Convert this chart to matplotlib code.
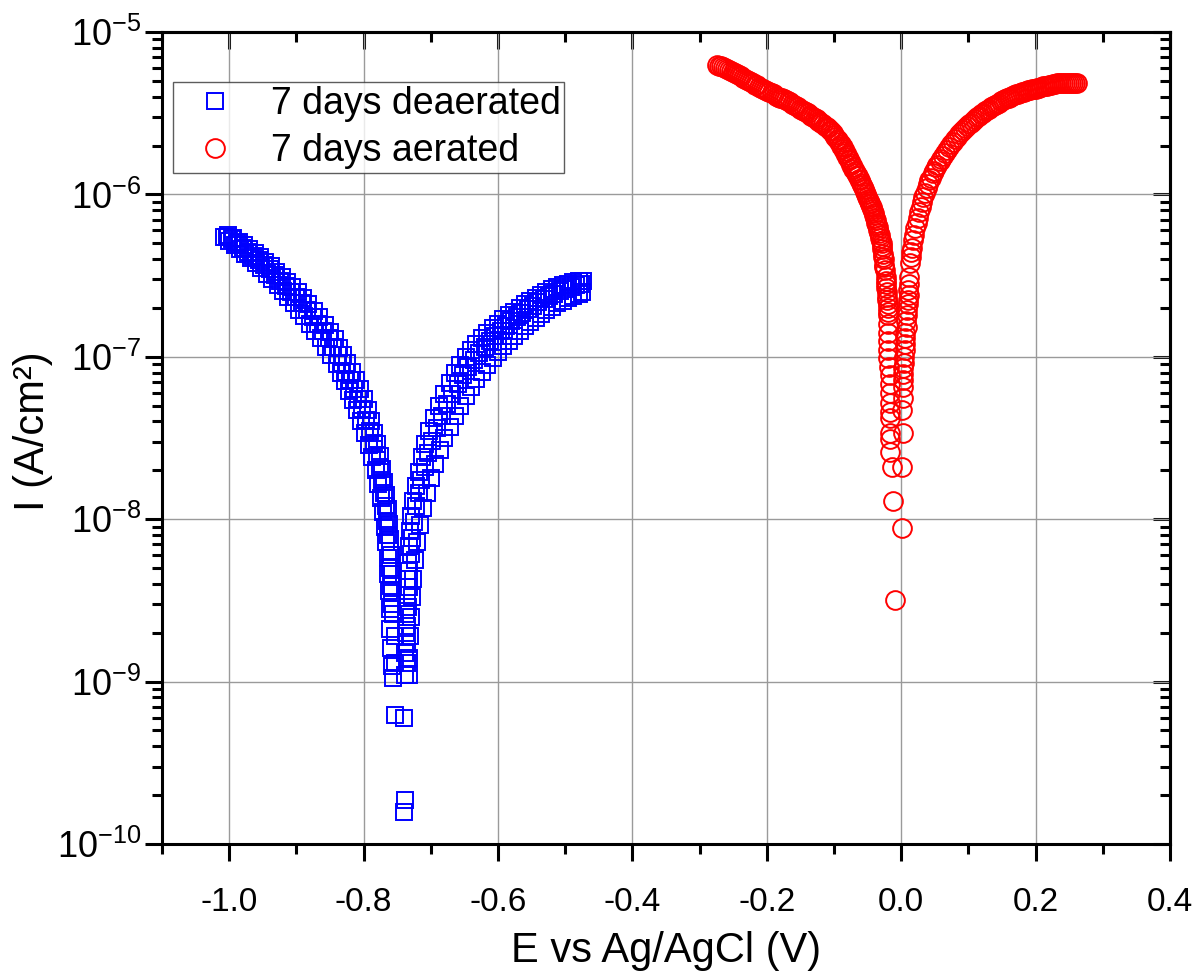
import math
import matplotlib
matplotlib.use("Agg")
import matplotlib.pyplot as plt
from matplotlib.ticker import MultipleLocator, LogLocator, FixedLocator, NullFormatter, FuncFormatter

plt.rcParams['font.family'] = ['Liberation Sans', 'DejaVu Sans']
plt.rcParams['mathtext.fontset'] = 'custom'
plt.rcParams['mathtext.rm'] = 'Liberation Sans'
plt.rcParams['mathtext.it'] = 'Liberation Sans:italic'
plt.rcParams['axes.unicode_minus'] = False

# 7 days deaerated, scan a (outer edge of the band)
blue_E_a = [-1.008, -1.000, -0.992, -0.984, -0.976, -0.968, -0.960, -0.952, -0.944, -0.936,
            -0.928, -0.920, -0.912, -0.904, -0.896, -0.888, -0.880, -0.872, -0.864, -0.856,
            -0.848, -0.840, -0.834, -0.828, -0.822, -0.816, -0.810, -0.804, -0.798, -0.792,
            -0.787, -0.782, -0.778, -0.774, -0.771, -0.768, -0.766, -0.764, -0.763, -0.762,
            -0.761, -0.760, -0.759, -0.758,
            -0.738, -0.738, -0.737, -0.737, -0.736, -0.735, -0.734, -0.733, -0.731, -0.729,
            -0.726, -0.722, -0.718, -0.713, -0.708, -0.702, -0.695, -0.688, -0.680, -0.672,
            -0.664, -0.656, -0.648, -0.640, -0.632, -0.624, -0.616, -0.608, -0.600, -0.592,
            -0.584, -0.576, -0.568, -0.560, -0.552, -0.544, -0.536, -0.528, -0.520, -0.512,
            -0.504, -0.496, -0.488, -0.480, -0.474]
blue_I_a = [5.5e-7, 5.2e-7, 4.9e-7, 4.6e-7, 4.3e-7, 4.05e-7, 3.8e-7, 3.5e-7, 3.25e-7, 3.0e-7,
            2.75e-7, 2.55e-7, 2.35e-7, 2.15e-7, 1.95e-7, 1.78e-7, 1.6e-7, 1.45e-7, 1.3e-7, 1.15e-7,
            1.02e-7, 9.0e-8, 8.0e-8, 7.1e-8, 6.2e-8, 5.4e-8, 4.7e-8, 4.0e-8, 3.4e-8, 2.85e-8,
            2.4e-8, 2.0e-8, 1.65e-8, 1.35e-8, 1.1e-8, 9.0e-9, 7.2e-9, 5.8e-9, 4.6e-9, 3.6e-9,
            2.8e-9, 2.1e-9, 1.6e-9, 1.25e-9,
            1.1e-9, 1.5e-9, 2.0e-9, 2.6e-9, 3.4e-9, 4.3e-9, 5.4e-9, 6.8e-9, 8.5e-9, 1.05e-8,
            1.3e-8, 1.6e-8, 1.95e-8, 2.4e-8, 2.9e-8, 3.5e-8, 4.2e-8, 5.0e-8, 5.9e-8, 6.9e-8,
            7.9e-8, 8.9e-8, 1.0e-7, 1.1e-7, 1.2e-7, 1.3e-7, 1.4e-7, 1.5e-7, 1.6e-7, 1.7e-7,
            1.8e-7, 1.9e-7, 2.0e-7, 2.1e-7, 2.2e-7, 2.3e-7, 2.4e-7, 2.5e-7, 2.6e-7, 2.68e-7,
            2.75e-7, 2.82e-7, 2.88e-7, 2.92e-7, 2.95e-7]

# 7 days deaerated, scan b (inner edge of the band)
blue_E_b = [-1.002, -0.994, -0.986, -0.978, -0.970, -0.962, -0.954, -0.946, -0.938, -0.930,
            -0.922, -0.914, -0.906, -0.898, -0.890, -0.882, -0.874, -0.866, -0.858, -0.850,
            -0.843, -0.836, -0.830, -0.824, -0.818, -0.812, -0.806, -0.800, -0.794, -0.789,
            -0.784, -0.780, -0.776, -0.772, -0.769, -0.766, -0.764, -0.762, -0.760, -0.759,
            -0.758, -0.757, -0.756, -0.754, -0.753, -0.756, -0.753, -0.740, -0.738, -0.740,
            -0.733, -0.732, -0.731, -0.730, -0.728, -0.726, -0.723, -0.720, -0.716, -0.711,
            -0.706, -0.700, -0.694, -0.687, -0.680, -0.672, -0.664, -0.656, -0.648, -0.640,
            -0.632, -0.624, -0.616, -0.608, -0.600, -0.592, -0.584, -0.576, -0.568, -0.560,
            -0.552, -0.544, -0.536, -0.528, -0.520, -0.512, -0.504, -0.496, -0.488, -0.480,
            -0.475]
blue_I_b = [5.6e-7, 5.4e-7, 5.1e-7, 4.85e-7, 4.6e-7, 4.35e-7, 4.1e-7, 3.85e-7, 3.6e-7, 3.35e-7,
            3.1e-7, 2.9e-7, 2.7e-7, 2.5e-7, 2.3e-7, 2.1e-7, 1.92e-7, 1.75e-7, 1.58e-7, 1.42e-7,
            1.28e-7, 1.14e-7, 1.02e-7, 9.1e-8, 8.1e-8, 7.2e-8, 6.3e-8, 5.5e-8, 4.7e-8, 4.0e-8,
            3.4e-8, 2.9e-8, 2.45e-8, 2.05e-8, 1.7e-8, 1.4e-8, 1.15e-8, 9.4e-9, 7.6e-9, 6.0e-9,
            4.6e-9, 3.5e-9, 2.6e-9, 1.9e-9, 1.3e-9, 1.05e-9, 6.2e-10, 6.0e-10, 1.87e-10, 1.57e-10,
            1.1e-9, 1.4e-9, 1.9e-9, 2.5e-9, 3.3e-9, 4.3e-9, 5.6e-9, 7.2e-9, 9.2e-9, 1.17e-8,
            1.45e-8, 1.8e-8, 2.2e-8, 2.65e-8, 3.15e-8, 3.7e-8, 4.3e-8, 5.0e-8, 5.7e-8, 6.5e-8,
            7.3e-8, 8.1e-8, 8.9e-8, 9.8e-8, 1.07e-7, 1.16e-7, 1.25e-7, 1.34e-7, 1.44e-7, 1.54e-7,
            1.64e-7, 1.74e-7, 1.84e-7, 1.94e-7, 2.04e-7, 2.13e-7, 2.22e-7, 2.3e-7, 2.38e-7, 2.45e-7,
            2.5e-7]

# 7 days deaerated, scan c (middle of the band)
blue_E_c = [-1.004, -0.996, -0.988, -0.980, -0.972, -0.964, -0.956, -0.948, -0.940, -0.932,
            -0.924, -0.916, -0.908, -0.900, -0.892, -0.884, -0.876, -0.868, -0.860, -0.852,
            -0.845, -0.838, -0.832, -0.826, -0.820, -0.814, -0.808, -0.802, -0.796, -0.790,
            -0.785, -0.780, -0.776, -0.772, -0.769, -0.767, -0.765, -0.763, -0.761, -0.760,
            -0.759, -0.758,
            -0.736, -0.735, -0.735, -0.734, -0.733, -0.732, -0.730, -0.728, -0.725, -0.722,
            -0.718, -0.714, -0.709, -0.704, -0.698, -0.691, -0.684, -0.676, -0.668, -0.660,
            -0.652, -0.644, -0.636, -0.628, -0.620, -0.612, -0.604, -0.596, -0.588, -0.580,
            -0.572, -0.564, -0.556, -0.548, -0.540, -0.532, -0.524, -0.516, -0.508, -0.500,
            -0.492, -0.484, -0.477]
blue_I_c = [5.5e-7, 5.3e-7, 5.0e-7, 4.7e-7, 4.45e-7, 4.2e-7, 3.95e-7, 3.7e-7, 3.45e-7, 3.2e-7,
            2.95e-7, 2.72e-7, 2.5e-7, 2.33e-7, 2.13e-7, 1.95e-7, 1.77e-7, 1.6e-7, 1.45e-7, 1.3e-7,
            1.15e-7, 1.03e-7, 9.1e-8, 8.1e-8, 7.2e-8, 6.3e-8, 5.5e-8, 4.8e-8, 4.1e-8, 3.5e-8,
            2.95e-8, 2.5e-8, 2.1e-8, 1.75e-8, 1.45e-8, 1.2e-8, 9.8e-9, 8.0e-9, 6.4e-9, 5.0e-9,
            3.9e-9, 3.0e-9,
            1.3e-9, 1.7e-9, 2.2e-9, 2.9e-9, 3.8e-9, 4.8e-9, 6.1e-9, 7.7e-9, 9.6e-9, 1.2e-8,
            1.45e-8, 1.75e-8, 2.1e-8, 2.55e-8, 3.05e-8, 3.65e-8, 4.3e-8, 5.1e-8, 5.9e-8, 6.8e-8,
            7.7e-8, 8.6e-8, 9.6e-8, 1.06e-7, 1.15e-7, 1.25e-7, 1.35e-7, 1.45e-7, 1.55e-7, 1.65e-7,
            1.75e-7, 1.85e-7, 1.96e-7, 2.06e-7, 2.16e-7, 2.26e-7, 2.36e-7, 2.45e-7, 2.54e-7, 2.62e-7,
            2.7e-7, 2.76e-7, 2.8e-7]

# 7 days aerated, scan a
red_E_a = [-0.274, -0.268, -0.262, -0.256, -0.250, -0.244, -0.238, -0.232, -0.226, -0.220,
           -0.214, -0.208, -0.202, -0.196, -0.190, -0.184, -0.178, -0.172, -0.166, -0.160,
           -0.154, -0.148, -0.142, -0.136, -0.131, -0.126, -0.121, -0.116, -0.111, -0.106,
           -0.102, -0.098, -0.094, -0.090, -0.087, -0.084, -0.081, -0.078, -0.075, -0.072,
           -0.069, -0.066, -0.063, -0.060, -0.057, -0.054, -0.051, -0.048, -0.046, -0.044,
           -0.042, -0.040, -0.038, -0.036, -0.034, -0.032, -0.030, -0.029, -0.028, -0.027,
           -0.026, -0.025, -0.024, -0.023, -0.022, -0.021, -0.021, -0.020, -0.020, -0.020,
           -0.020, -0.020, -0.019, -0.019, -0.018, -0.017, -0.017, -0.016, -0.017, -0.016,
           -0.016, -0.017, -0.016, -0.016, -0.014, -0.012, -0.009,
           0.001, 0.001, 0.002, 0.001, 0.002, 0.003, 0.003, 0.004, 0.005, 0.006,
           0.007, 0.009, 0.010, 0.010, 0.012, 0.013, 0.015, 0.018, 0.021, 0.025,
           0.029, 0.033, 0.038, 0.042, 0.047, 0.052, 0.057, 0.062, 0.068, 0.074,
           0.080, 0.086, 0.092, 0.098, 0.104, 0.110, 0.116, 0.122, 0.128, 0.134,
           0.140, 0.146, 0.152, 0.157, 0.162, 0.168, 0.174, 0.180, 0.186, 0.192,
           0.197, 0.202, 0.208, 0.214, 0.220, 0.226, 0.232, 0.238, 0.244, 0.250,
           0.256, 0.262]
red_I_a = [6.3e-6, 6.15e-6, 6.0e-6, 5.85e-6, 5.7e-6, 5.55e-6, 5.35e-6, 5.15e-6, 5.0e-6, 4.85e-6,
           4.7e-6, 4.55e-6, 4.4e-6, 4.3e-6, 4.15e-6, 4.0e-6, 3.9e-6, 3.8e-6, 3.7e-6, 3.55e-6,
           3.45e-6, 3.3e-6, 3.2e-6, 3.1e-6, 3.0e-6, 2.9e-6, 2.8e-6, 2.7e-6, 2.6e-6, 2.5e-6,
           2.38e-6, 2.26e-6, 2.15e-6, 2.05e-6, 1.96e-6, 1.85e-6, 1.75e-6, 1.66e-6, 1.57e-6, 1.48e-6,
           1.4e-6, 1.32e-6, 1.25e-6, 1.18e-6, 1.11e-6, 1.04e-6, 9.7e-7, 9.1e-7, 8.7e-7, 8.4e-7,
           7.9e-7, 7.5e-7, 7.0e-7, 6.5e-7, 6.0e-7, 5.6e-7, 5.2e-7, 5.0e-7, 4.6e-7, 4.3e-7,
           4.0e-7, 3.7e-7, 3.4e-7, 3.1e-7, 2.8e-7, 2.5e-7, 2.24e-7, 2.0e-7, 1.8e-7, 1.6e-7,
           1.4e-7, 1.25e-7, 1.1e-7, 9.8e-8, 8.7e-8, 7.7e-8, 6.8e-8, 6.0e-8, 5.2e-8, 4.6e-8,
           4.2e-8, 3.4e-8, 3.1e-8, 2.6e-8, 2.1e-8, 1.3e-8, 3.2e-9,
           8.8e-9, 2.1e-8, 3.4e-8, 4.7e-8, 5.6e-8, 7.2e-8, 8.5e-8, 1.0e-7, 1.2e-7, 1.41e-7,
           1.65e-7, 1.95e-7, 2.25e-7, 2.57e-7, 3.1e-7, 3.8e-7, 4.4e-7, 5.25e-7, 6.2e-7, 7.2e-7,
           8.4e-7, 9.6e-7, 1.1e-6, 1.22e-6, 1.35e-6, 1.47e-6, 1.6e-6, 1.73e-6, 1.87e-6, 2.03e-6,
           2.19e-6, 2.35e-6, 2.5e-6, 2.63e-6, 2.77e-6, 2.9e-6, 3.05e-6, 3.18e-6, 3.3e-6, 3.43e-6,
           3.55e-6, 3.68e-6, 3.8e-6, 3.9e-6, 4.0e-6, 4.1e-6, 4.18e-6, 4.26e-6, 4.34e-6, 4.4e-6,
           4.46e-6, 4.5e-6, 4.58e-6, 4.65e-6, 4.72e-6, 4.78e-6, 4.82e-6, 4.85e-6, 4.85e-6, 4.84e-6,
           4.84e-6, 4.83e-6]

# 7 days aerated, scan b
red_E_b = [-0.271, -0.265, -0.259, -0.253, -0.247, -0.241, -0.235, -0.229, -0.223, -0.217,
           -0.211, -0.205, -0.199, -0.193, -0.187, -0.181, -0.175, -0.169, -0.163, -0.157,
           -0.151, -0.145, -0.139, -0.134, -0.129, -0.124, -0.119, -0.114, -0.109, -0.104,
           -0.100, -0.096, -0.092, -0.089, -0.086, -0.083, -0.080, -0.077, -0.074, -0.071,
           -0.068, -0.065, -0.062, -0.059, -0.056, -0.053, -0.050, -0.047, -0.045, -0.043,
           -0.041, -0.039, -0.037, -0.035, -0.033, -0.031, -0.029, -0.027, -0.025, -0.023,
           -0.022, -0.021, -0.020, -0.019,
           0.002, 0.003, 0.004, 0.005, 0.006, 0.008, 0.009, 0.010, 0.011, 0.012,
           0.014, 0.016, 0.019, 0.023, 0.027, 0.031, 0.035, 0.040, 0.044, 0.049,
           0.054, 0.059, 0.065, 0.071, 0.077, 0.083, 0.089, 0.095, 0.101, 0.107,
           0.113, 0.119, 0.125, 0.131, 0.137, 0.143, 0.149, 0.155, 0.160, 0.165,
           0.171, 0.177, 0.183, 0.189, 0.195, 0.200, 0.205, 0.211, 0.217, 0.223,
           0.229, 0.235, 0.241, 0.247, 0.253, 0.259]
red_I_b = [6.2e-6, 6.05e-6, 5.9e-6, 5.75e-6, 5.6e-6, 5.4e-6, 5.2e-6, 5.05e-6, 4.9e-6, 4.75e-6,
           4.6e-6, 4.45e-6, 4.35e-6, 4.2e-6, 4.05e-6, 3.95e-6, 3.85e-6, 3.75e-6, 3.6e-6, 3.5e-6,
           3.35e-6, 3.25e-6, 3.15e-6, 3.05e-6, 2.95e-6, 2.85e-6, 2.75e-6, 2.65e-6, 2.55e-6, 2.45e-6,
           2.32e-6, 2.2e-6, 2.1e-6, 2.0e-6, 1.9e-6, 1.8e-6, 1.7e-6, 1.62e-6, 1.52e-6, 1.44e-6,
           1.36e-6, 1.29e-6, 1.22e-6, 1.15e-6, 1.08e-6, 1.0e-6, 9.4e-7, 8.9e-7, 8.5e-7, 8.1e-7,
           7.7e-7, 7.2e-7, 6.7e-7, 6.3e-7, 5.8e-7, 5.4e-7, 4.8e-7, 4.1e-7, 3.55e-7, 2.95e-7,
           2.65e-7, 2.35e-7, 2.1e-7, 1.9e-7,
           6.5e-8, 7.8e-8, 9.2e-8, 1.1e-7, 1.3e-7, 1.52e-7, 1.8e-7, 2.1e-7, 2.4e-7, 2.8e-7,
           4.1e-7, 4.7e-7, 5.6e-7, 6.7e-7, 7.8e-7, 9.0e-7, 1.02e-6, 1.16e-6, 1.27e-6, 1.4e-6,
           1.52e-6, 1.65e-6, 1.8e-6, 1.95e-6, 2.11e-6, 2.27e-6, 2.43e-6, 2.57e-6, 2.7e-6, 2.84e-6,
           2.98e-6, 3.12e-6, 3.24e-6, 3.37e-6, 3.5e-6, 3.62e-6, 3.74e-6, 3.85e-6, 3.95e-6, 4.05e-6,
           4.14e-6, 4.22e-6, 4.3e-6, 4.37e-6, 4.43e-6, 4.48e-6, 4.54e-6, 4.62e-6, 4.68e-6, 4.75e-6,
           4.8e-6, 4.84e-6, 4.85e-6, 4.85e-6, 4.84e-6, 4.83e-6]

x_ticks = [-1.0, -0.8, -0.6, -0.4, -0.2, 0.0, 0.2, 0.4]
y_ticks = [1e-10, 1e-9, 1e-8, 1e-7, 1e-6, 1e-5]

fig = plt.figure(figsize=(12.01, 9.72), dpi=100)
ax = fig.add_axes([162 / 1201, 1 - 844 / 972, 1008 / 1201, 812 / 972])

ax.plot(blue_E_a + blue_E_c + blue_E_b, blue_I_a + blue_I_c + blue_I_b, ls='none',
        marker='s', ms=11.5, mfc='none', mec='#0000ff', mew=1.4, label='7 days deaerated')
ax.plot(red_E_a + red_E_b, red_I_a + red_I_b, ls='none', marker='o', ms=13.5,
        mfc='none', mec='#ff0000', mew=1.4, label='7 days aerated')

ax.set_yscale('log')
ax.set_xlim(-1.1, 0.4)
ax.set_ylim(1e-10, 1e-5)
ax.xaxis.set_major_locator(FixedLocator(x_ticks))
ax.xaxis.set_minor_locator(MultipleLocator(0.1))
ax.xaxis.set_major_formatter(FuncFormatter(lambda v, p: f"{v:.1f}"))
ax.yaxis.set_major_locator(FixedLocator(y_ticks))
ax.yaxis.set_minor_locator(LogLocator(base=10, subs=range(2, 10), numticks=20))
ax.yaxis.set_minor_formatter(NullFormatter())
ax.yaxis.set_major_formatter(FuncFormatter(
    lambda v, p: r"$\mathregular{10^{%d}}$" % round(math.log10(v))))

ax.set_axisbelow(True)
ax.grid(True, which='major', color='#9a9a9a', lw=1.0)

for s in ax.spines.values():
    s.set_linewidth(2.2)
ax.tick_params(axis='both', which='major', direction='out', length=12, width=2.2)
ax.tick_params(axis='both', which='minor', direction='out', length=7, width=2.2)
ax.tick_params(axis='x', labelsize=24, pad=19)
ax.tick_params(axis='y', labelsize=26, pad=3)

# inward ticks on the top and right sides
top = ax.secondary_xaxis('top')
top.xaxis.set_major_locator(FixedLocator(x_ticks))
top.xaxis.set_minor_locator(MultipleLocator(0.1))
top.tick_params(which='major', direction='in', length=12, width=2.2, labeltop=False)
top.tick_params(which='minor', direction='in', length=7, width=2.2)
top.spines['top'].set_linewidth(2.2)

right = ax.secondary_yaxis('right')
right.yaxis.set_major_locator(FixedLocator(y_ticks))
right.yaxis.set_minor_locator(LogLocator(base=10, subs=range(2, 10), numticks=20))
right.tick_params(which='major', direction='in', length=12, width=2.2, labelright=False)
right.tick_params(which='minor', direction='in', length=7, width=2.2)
right.spines['right'].set_linewidth(2.2)

fig.text(666 / 1201, 1 - 962 / 972, 'E vs Ag/AgCl (V)', fontsize=30,
         ha='center', va='baseline')
fig.text(44 / 1201, 1 - 431 / 972, 'I (A/cm²)', fontsize=30, rotation=90,
         ha='center', va='baseline', rotation_mode='anchor')

leg = ax.legend(loc='upper left', bbox_to_anchor=(0.011, 0.938), fontsize=27,
                frameon=True, fancybox=False, borderaxespad=0, borderpad=0.1,
                handlelength=2.05, handletextpad=0.45, labelspacing=0.3)
leg.get_frame().set_edgecolor('#333333')
leg.get_frame().set_linewidth(1.0)

fig.savefig('out.png', dpi=100)
